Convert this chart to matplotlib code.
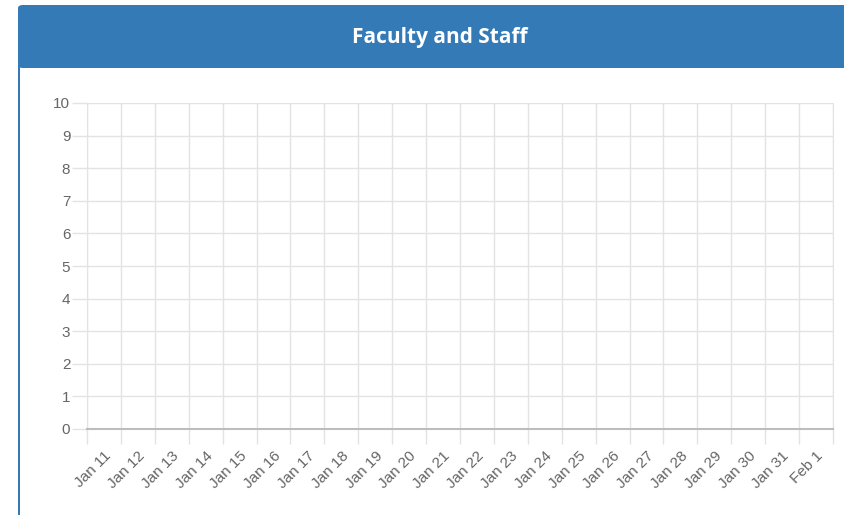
import numpy as np
import matplotlib

matplotlib.use("Agg")
import matplotlib.pyplot as plt
from matplotlib.patches import FancyBboxPatch, Rectangle

# chart data: one bar per day, no entries recorded
days = ["Jan 11", "Jan 12", "Jan 13", "Jan 14", "Jan 15", "Jan 16", "Jan 17",
        "Jan 18", "Jan 19", "Jan 20", "Jan 21", "Jan 22", "Jan 23", "Jan 24",
        "Jan 25", "Jan 26", "Jan 27", "Jan 28", "Jan 29", "Jan 30", "Jan 31",
        "Feb 1"]
counts = [0] * len(days)
y_ticks = list(range(0, 11))
title = "Faculty and Staff"

W, H = 844, 515
BLUE = "#337ab7"
GRID = "#e3e3e3"
ZERO = "#bdbdbd"
TXT = "#666666"

fig = plt.figure(figsize=(W / 100, H / 100), dpi=100)
fig.patch.set_facecolor("white")

# panel header + left border
header = FancyBboxPatch((18 / W, 1 - 68 / H), (W + 20 - 18) / W, 63 / H,
                        boxstyle="round,pad=0,rounding_size=0.006",
                        transform=fig.transFigure, facecolor=BLUE,
                        edgecolor="none", zorder=0)
fig.patches.append(header)
fig.patches.append(Rectangle((18 / W, 0), 1.6 / W, 1 - 60 / H,
                             transform=fig.transFigure, facecolor=BLUE,
                             edgecolor="none", zorder=0))
fig.text(440 / W, 1 - 37 / H, title, color="white", fontsize=15,
         fontweight="bold", family="Open Sans", ha="center", va="center")

ax = fig.add_axes([87 / W, 1 - 429 / H, (833 - 87) / W, (429 - 103) / H])
x = np.arange(len(days))
ax.bar(x, counts, width=0.8, color=BLUE)

ax.set_xlim(-0.5, len(days) - 0.5)
ax.set_ylim(0, 10)

ax.set_xticks(x)
ax.set_xticklabels(days, rotation=45, ha="right", va="top",
                   rotation_mode="anchor", fontsize=11, color=TXT,
                   family="Liberation Sans")
ax.set_xticks(np.arange(-0.5, len(days)), minor=True)
ax.tick_params(axis="x", which="major", length=0, pad=14)
ax.tick_params(axis="x", which="minor", length=11, color=GRID, width=1)
ax.grid(True, axis="x", which="minor", color=GRID, linewidth=1)

ax.set_yticks(y_ticks)
ax.set_yticklabels([str(v) for v in y_ticks], fontsize=11, color=TXT,
                   family="Liberation Sans")
ax.tick_params(axis="y", length=11, color=GRID, width=1, pad=1)
ax.grid(True, axis="y", color=GRID, linewidth=1)
ax.set_axisbelow(True)

for side in ["top", "right", "left"]:
    ax.spines[side].set_color(GRID)
ax.spines["top"].set_visible(False)
ax.spines["bottom"].set_color(ZERO)
ax.spines["bottom"].set_linewidth(1.5)

fig.savefig("out.png", dpi=100)
